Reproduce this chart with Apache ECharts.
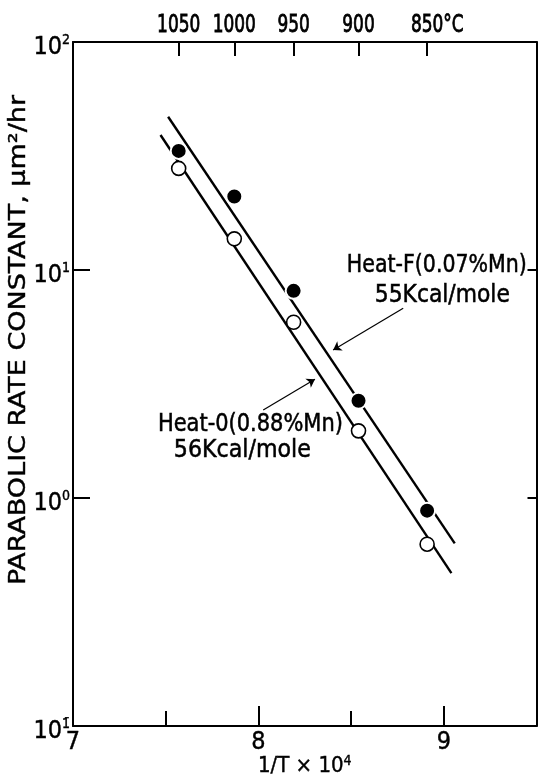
<!DOCTYPE html>
<html>
<head>
<meta charset="utf-8">
<script src="https://cdn.jsdelivr.net/npm/echarts@6/dist/echarts.min.js"></script>
<style>
  html, body { margin: 0; padding: 0; background: #fff; }
  #chart { width: 538px; height: 780px; }
</style>
</head>
<body>
<div id="chart"></div>
<script>
// Test temperatures, placed on the 1/T x 10^4 scale
const tempLabels = ['1050', '1000', '950', '900', '850°C'];
const tempX = [7.57, 7.87, 8.19, 8.54, 8.91];

// Parabolic rate constants, um^2/hr
const heatF = [33.3, 21.0, 8.1, 2.67, 0.88];    // Heat-F, 0.07% Mn (filled)
const heat0 = [27.9, 13.7, 5.9, 1.97, 0.627];   // Heat-0, 0.88% Mn (open)

// Arrhenius fit lines, end points
const fitFx = [7.513, 9.059];
const fitFy = [47.0, 0.632];
const fit0x = [7.472, 9.041];
const fit0y = [39.1, 0.468];

// Axis tick labels
const xTickLabels = [7, 8, 9];
const yExponent = { '-1': '1\u0304', '0': '0', '1': '1', '2': '2' };

const FONT = '"Liberation Sans Narrow", "DejaVu Sans Condensed", Roboto, sans-serif';
const INK = '#000';

const zip = (xs, ys) => xs.map((x, i) => [x, ys[i]]);

const chart = echarts.init(document.getElementById('chart'), null, { renderer: 'canvas' });

const axisLine = { show: true, lineStyle: { color: INK, width: 2 } };
const ink = { color: INK, textBorderColor: INK, textBorderWidth: 0.4 };

const option = {
  animation: false,
  backgroundColor: '#fff',
  grid: { left: 73, right: 1.5, top: 42, bottom: 54, containLabel: false, outerBoundsMode: 'none' },
  xAxis: [
    {
      type: 'value', position: 'bottom', min: 7, max: 9.5, interval: 1,
      axisLine,
      axisTick: { inside: true, length: 20, lineStyle: { color: INK, width: 2 } },
      axisLabel: Object.assign({
        fontFamily: FONT, fontSize: 25, margin: 4,
        showMaxLabel: false,
        formatter: v => (xTickLabels.indexOf(v) >= 0 ? String(v) : '')
      }, ink),
      splitLine: { show: false },
      name: '{b|1/T × 10}{s|4}',
      nameLocation: 'middle', nameGap: 28, nameMoveOverlap: false,
      nameTextStyle: {
        rich: {
          b: Object.assign({ fontFamily: FONT, fontSize: 22, lineHeight: 24 }, ink),
          s: Object.assign({ fontFamily: FONT, fontSize: 14, verticalAlign: 'top', lineHeight: 14 }, ink)
        }
      }
    },
    {
      type: 'value', position: 'bottom', min: 7, max: 9.5, interval: 0.5,
      axisLine: { show: false },
      axisTick: { inside: true, length: 15, lineStyle: { color: INK, width: 2 } },
      axisLabel: { show: false },
      splitLine: { show: false }
    },
    {
      type: 'value', position: 'top', min: 7, max: 9.5,
      axisLine,
      axisTick: { inside: true, length: 14, customValues: tempX, lineStyle: { color: INK, width: 2 } },
      axisLabel: { show: false },
      splitLine: { show: false }
    }
  ],
  yAxis: [
    {
      type: 'log', logBase: 10, min: 0.1, max: 100, position: 'left',
      axisLine,
      axisTick: { inside: true, length: 17, lineStyle: { color: INK, width: 2 } },
      axisLabel: {
        margin: 3,
        formatter: v => '{b|10}{s|' + yExponent[String(Math.round(Math.log10(v)))] + '}',
        rich: {
          b: Object.assign({ fontFamily: FONT, fontSize: 25, lineHeight: 26, padding: [11, 0, 0, 0] }, ink),
          s: Object.assign({ fontFamily: FONT, fontSize: 14, verticalAlign: 'top', lineHeight: 16, padding: [4, 0, 0, 0] }, ink)
        }
      },
      splitLine: { show: false }
    },
    {
      type: 'log', logBase: 10, min: 0.1, max: 100, position: 'right',
      axisLine,
      axisTick: { inside: true, length: 9, lineStyle: { color: INK, width: 2 } },
      axisLabel: { show: false },
      splitLine: { show: false }
    }
  ],
  series: [
    {
      name: 'Heat-F fit', type: 'line', xAxisIndex: 0, yAxisIndex: 0,
      data: zip(fitFx, fitFy), symbol: 'none', silent: true, z: 2,
      lineStyle: { color: INK, width: 2.4 },
      markLine: {
        silent: true, symbol: ['none', 'arrow'], symbolSize: 8,
        label: { show: false },
        lineStyle: { color: INK, width: 1.2, type: 'solid' },
        data: [[{ coord: [8.781, 6.79] }, { coord: [8.403, 4.46] }]]
      }
    },
    {
      name: 'Heat-0 fit', type: 'line', xAxisIndex: 0, yAxisIndex: 0,
      data: zip(fit0x, fit0y), symbol: 'none', silent: true, z: 2,
      lineStyle: { color: INK, width: 2.4 },
      markLine: {
        silent: true, symbol: ['none', 'arrow'], symbolSize: 8,
        label: { show: false },
        lineStyle: { color: INK, width: 1.2, type: 'solid' },
        data: [[{ coord: [8.026, 2.43] }, { coord: [8.305, 3.32] }]]
      }
    },
    {
      name: 'Heat-0 (0.88%Mn)', type: 'scatter', xAxisIndex: 0, yAxisIndex: 0,
      data: zip(tempX, heat0), symbol: 'circle', symbolSize: 14, z: 3, silent: true,
      itemStyle: { color: '#fff', borderColor: INK, borderWidth: 1.6, opacity: 1 }
    },
    {
      name: 'Heat-F (0.07%Mn)', type: 'scatter', xAxisIndex: 0, yAxisIndex: 0,
      data: zip(tempX, heatF), symbol: 'circle', symbolSize: 16, z: 4, silent: true,
      itemStyle: { color: INK, borderColor: '#fff', borderWidth: 2, opacity: 1 }
    }
  ]
};

chart.setOption(option);

// Lettering: sized from the cap height, then stretched to the drawn width
const measure = document.createElement('canvas').getContext('2d');
function metrics(text, size) {
  measure.font = size + 'px ' + FONT;
  return {
    width: measure.measureText(text).width,
    cap: measure.measureText('H').actualBoundingBoxAscent || size * 0.72
  };
}
function lettering(text, x, y, capHeight, width, fitText, weight) {
  const size = 25 * capHeight / metrics(text, 25).cap;
  const w = metrics(fitText || text, size).width;
  return {
    type: 'text', x, y, silent: true,
    scaleX: width / w,
    style: {
      text, fontFamily: FONT, fontSize: size, fill: INK,
      stroke: INK, lineWidth: weight || 0.5,
      align: 'left', verticalAlign: 'middle'
    }
  };
}

const graphics = [];

// Annotations, anchored in data coordinates
const notes = [
  { text: 'Heat-F(0.07%Mn)', at: [8.477, 10.5], width: 180 },
  { text: '55Kcal/mole', at: [8.628, 7.76], width: 135 },
  { text: 'Heat-0(0.88%Mn)', at: [7.458, 2.10], width: 185 },
  { text: '56Kcal/mole', at: [7.544, 1.62], width: 137 }
];
notes.forEach(n => {
  const p = chart.convertToPixel({ seriesIndex: 0 }, n.at);
  graphics.push(lettering(n.text, p[0], p[1], 18, n.width));
});

// Temperature scale along the top edge
const topY = chart.convertToPixel({ yAxisIndex: 0 }, 100);
tempLabels.forEach((lab, i) => {
  const px = chart.convertToPixel({ xAxisIndex: 2 }, tempX[i]);
  const digits = lab.replace('°C', '');
  const w = 10.8 * digits.length;
  graphics.push(lettering(lab, px - w / 2, topY - 17, 18, w, digits, 0.8));
});

// Rotated y-axis title
const title = 'PARABOLIC RATE CONSTANT, μm²/hr';
const tg = lettering(title, 19, 340, 17, 490);
tg.rotation = Math.PI / 2;
tg.style.align = 'center';
tg.style.lineWidth = 0.4;
graphics.push(tg);

chart.setOption({ graphic: graphics });
</script>
</body>
</html>
